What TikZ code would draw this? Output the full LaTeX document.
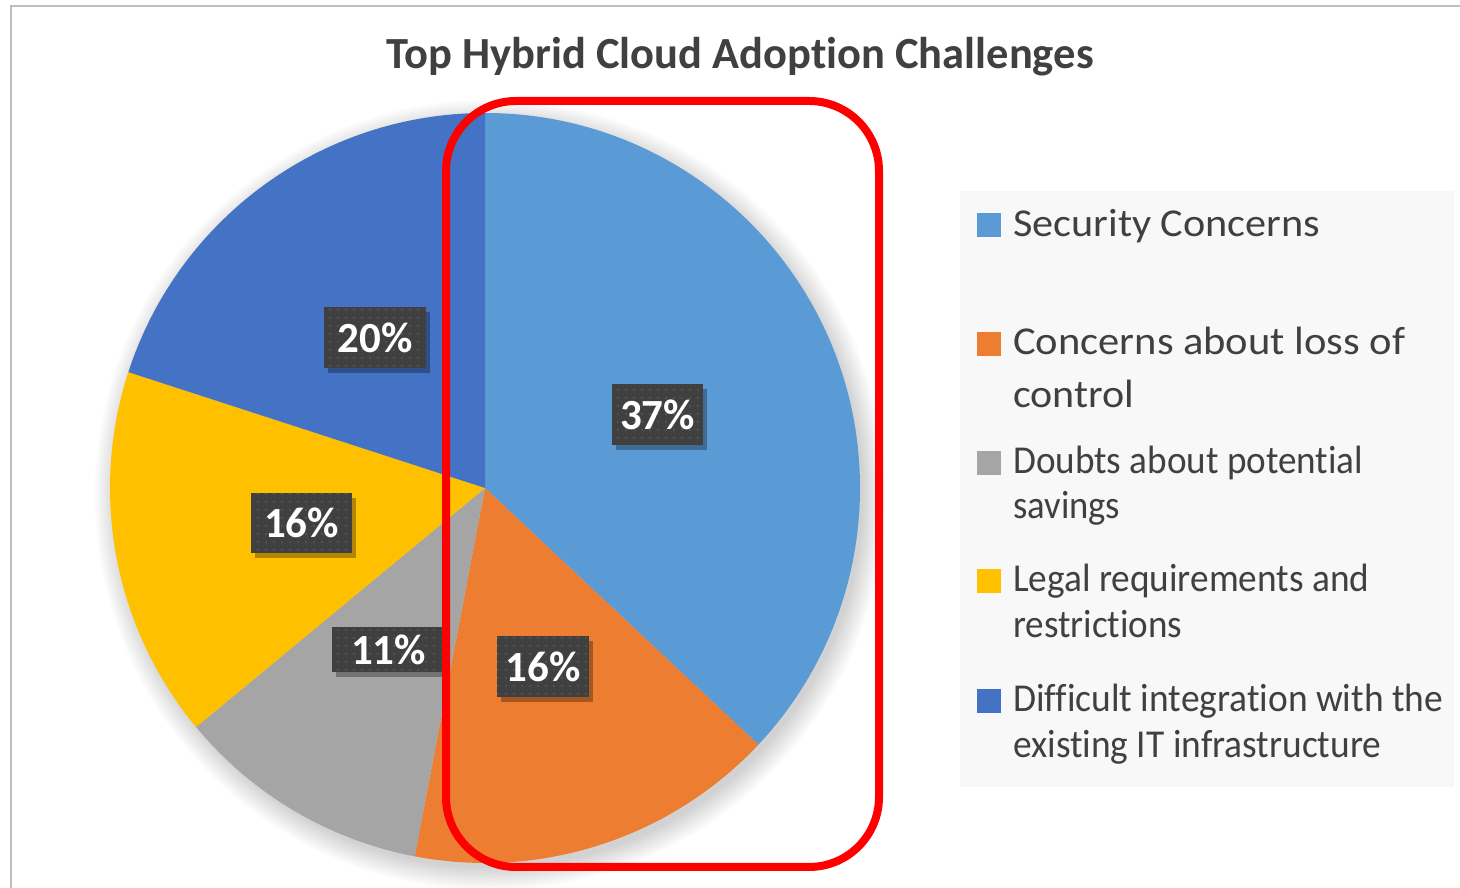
\documentclass[tikz,border=0pt]{standalone}
\usepackage{fontspec}
\usepackage{graphicx}
\setmainfont{Carlito}[Ligatures=NoCommon]
\usetikzlibrary{patterns.meta,shadows}
\definecolor{secC}{HTML}{5B9BD5}
\definecolor{ctrlC}{HTML}{ED7D31}
\definecolor{savC}{HTML}{A5A5A5}
\definecolor{legalC}{HTML}{FFC000}
\definecolor{integC}{HTML}{4472C4}
\definecolor{txtC}{HTML}{404040}
\definecolor{lblC}{HTML}{404040}
\definecolor{dotC}{HTML}{585858}
\definecolor{frameC}{HTML}{BFBFBF}
\definecolor{legbgC}{HTML}{F8F8F8}
\definecolor{hiC}{HTML}{FF0000}
\newcommand{\legw}[2]{\resizebox{#1pt}{\height}{#2}}
\begin{document}
\begin{tikzpicture}[x=1pt,y=1pt,
  lbl/.style={fill=lblC, text=white, inner sep=0pt,
    font=\bfseries\fontsize{43}{50}\selectfont,
    drop shadow={shadow xshift=4pt, shadow yshift=-5pt, opacity=0.3, fill=black},
    postaction={pattern={Dots[distance=8pt, radius=1.1pt, xshift=2pt, yshift=2pt]}, pattern color=dotC}},
  legtxt/.style={anchor=base west, inner sep=0pt, text=txtC, font=\fontsize{39.5}{47}\selectfont},
  legsq/.style={anchor=south west, inner sep=0pt, minimum size=24pt}]
\useasboundingbox (0,0) rectangle (1460,888);
\fill[white] (0,0) rectangle (1460,888);
% frame
\draw[frameC, line width=2pt] (11,0) -- (11,882) -- (1460,882);
% title
\node[anchor=base, inner sep=0pt, text=txtC, font=\bfseries\fontsize{44.5}{52}\selectfont] (title) at (740,819) {Top Hybrid Cloud Adoption Challenges};
% pie shadow glow
\foreach \k in {0,...,14}{
  \fill[black, opacity=0.012] (490,393) circle ({373+1.6*\k});
}
% pie
\coordinate (c) at (485,400);
\fill[secC]   (c) -- ++(90:375)    arc[start angle=90,    end angle=-43.2,  radius=375] -- cycle;
\fill[ctrlC]  (c) -- ++(-43.2:375) arc[start angle=-43.2, end angle=-100.8, radius=375] -- cycle;
\fill[savC]   (c) -- ++(-100.8:375) arc[start angle=-100.8, end angle=-140.4, radius=375] -- cycle;
\fill[legalC] (c) -- ++(-140.4:375) arc[start angle=-140.4, end angle=-198, radius=375] -- cycle;
\fill[integC] (c) -- ++(-198:375)  arc[start angle=-198,  end angle=-270,   radius=375] -- cycle;
% data labels
\node[lbl, minimum width=102pt, minimum height=61pt] (l20) at (375,550.5) {20\%};
\node[lbl, minimum width=91pt,  minimum height=61pt] (l37) at (657.5,473.5) {37\%};
\node[lbl, minimum width=101pt, minimum height=60pt] (l16y) at (301.5,365) {16\%};
\node[lbl, minimum width=113pt, minimum height=45pt] (l11) at (388.5,238.5) {11\%};
\node[lbl, minimum width=92pt,  minimum height=61pt] (l16o) at (543,221.5) {16\%};
% highlight
\draw[hiC, line width=8pt, rounded corners=70pt] (446,21) rectangle (879,787);
% legend
\fill[legbgC] (960,101) rectangle (1454,697);
\node[legsq, fill=secC]   (s1) at (977,651) {};
\node[legsq, fill=ctrlC]  (s2) at (977,532) {};
\node[legsq, fill=savC]   (s3) at (977,413) {};
\node[legsq, fill=legalC] (s4) at (977,295) {};
\node[legsq, fill=integC] (s5) at (977,175) {};
\node[legtxt] (t1)  at (1013,651) {\legw{307}{Security Concerns}};
\node[legtxt] (t2a) at (1013,533) {\legw{392}{Concerns about loss of}};
\node[legtxt] (t2b) at (1013,480) {\legw{121}{control}};
\node[legtxt] (t3a) at (1013,414) {\legw{350}{Doubts about potential}};
\node[legtxt] (t3b) at (1013,369) {\legw{107}{savings}};
\node[legtxt] (t4a) at (1013,296) {\legw{356}{Legal requirements and}};
\node[legtxt] (t4b) at (1013,250) {\legw{169}{restrictions}};
\node[legtxt] (t5a) at (1013,176) {\legw{430}{Difficult integration with the}};
\node[legtxt] (t5b) at (1013,130) {\legw{368}{existing IT infrastructure}};
\end{tikzpicture}
\end{document}
